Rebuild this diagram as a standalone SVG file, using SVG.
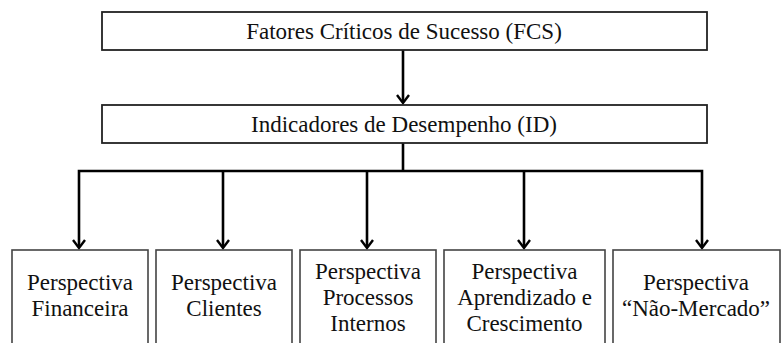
<svg xmlns="http://www.w3.org/2000/svg" width="782" height="343" viewBox="0 0 782 343">
<defs>
<style>
.box{fill:#fff;stroke:#222;stroke-width:1.8}
.pbox{fill:#fff;stroke:#444;stroke-width:1.6}
.t{font-family:"Liberation Serif",Tinos,"Times New Roman",Times,"Nimbus Roman","Nimbus Roman No9 L",FreeSerif,"Noto Serif","DejaVu Serif",serif;font-size:23px;fill:#111;text-anchor:middle}
.c{fill:none;stroke:#000;stroke-width:2.6}
.ah{fill:none;stroke:#000;stroke-width:2.4;stroke-linejoin:miter}
</style>
</defs>
<rect width="782" height="343" fill="#fff"/>
<g id="connectors">
<line class="c" x1="403" y1="50" x2="403" y2="102"/>
<path class="ah" d="M397,95 L403,103 L409,95"/>
<polyline class="c" points="403,143 403,171"/>
<polyline class="c" points="79,247 79,171 702,171 702,247"/>
<line class="c" x1="223" y1="171" x2="223" y2="247"/>
<line class="c" x1="367" y1="171" x2="367" y2="247"/>
<line class="c" x1="524" y1="171" x2="524" y2="247"/>
<path class="ah" d="M73,240 L79,248 L85,240"/>
<path class="ah" d="M217,240 L223,248 L229,240"/>
<path class="ah" d="M361,240 L367,248 L373,240"/>
<path class="ah" d="M518,240 L524,248 L530,240"/>
<path class="ah" d="M696,240 L702,248 L708,240"/>
</g>
<g id="fcs">
<rect class="box" x="102" y="12" width="605" height="38"/>
<text class="t" x="404" y="39">Fatores Críticos de Sucesso (FCS)</text>
</g>
<g id="id">
<rect class="box" x="102" y="105" width="605" height="38"/>
<text class="t" x="404" y="132">Indicadores de Desempenho (ID)</text>
</g>
<g id="financeira">
<rect class="pbox" x="12" y="250" width="136" height="100"/>
<text class="t" x="80" y="290">Perspectiva</text>
<text class="t" x="80" y="316">Financeira</text>
</g>
<g id="clientes">
<rect class="pbox" x="156" y="250" width="136" height="100"/>
<text class="t" x="224" y="290">Perspectiva</text>
<text class="t" x="224" y="316">Clientes</text>
</g>
<g id="processos">
<rect class="pbox" x="300" y="250" width="136" height="100"/>
<text class="t" x="368" y="279">Perspectiva</text>
<text class="t" x="368" y="305">Processos</text>
<text class="t" x="368" y="331">Internos</text>
</g>
<g id="aprendizado">
<rect class="pbox" x="444" y="250" width="161" height="100"/>
<text class="t" x="524.5" y="279">Perspectiva</text>
<text class="t" x="524.5" y="305">Aprendizado e</text>
<text class="t" x="524.5" y="331">Crescimento</text>
</g>
<g id="naomercado">
<rect class="pbox" x="613" y="250" width="167" height="100"/>
<text class="t" x="696" y="290">Perspectiva</text>
<text class="t" x="696" y="316">“Não-Mercado”</text>
</g>
</svg>
